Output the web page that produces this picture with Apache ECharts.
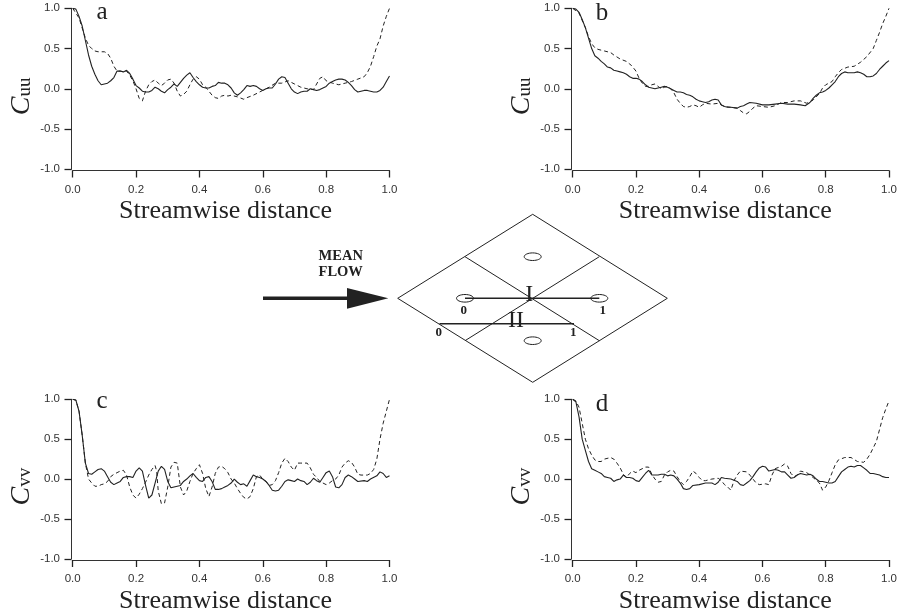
<!DOCTYPE html>
<html><head><meta charset="utf-8">
<style>html,body{margin:0;padding:0;background:#fff}#c{width:900px;height:615px}</style>
<script src="https://cdn.jsdelivr.net/npm/echarts@6/dist/echarts.min.js"></script></head>
<body><div id="c"></div>
<script>
const xTicks=[0,0.2,0.4,0.6,0.8,1];
const xTitle='Streamwise distance';
const panelLetters=['a','b','c','d'];
const yNames=['uu','uu','vv','vv'];
const aSolid=[[0,1],[.01,.99],[.02,.9],[.03,.78],[.04,.6],[.05,.42],[.06,.28],[.07,.18],[.08,.1],[.09,.05],[.095,.035],[.11,.07],[.12,.1],[.13,.14],[.14,.22],[.15,.22],[.16,.21],[.17,.23],[.175,.24],[.18,.19],[.19,.12],[.2,.04],[.21,.01],[.22,-.03],[.23,-.04],[.24,-.04],[.25,-.02],[.26,.02],[.27,0],[.28,-.03],[.29,-.05],[.3,-.01],[.31,.02],[.32,.06],[.33,.03],[.34,.08],[.35,.13],[.36,.17],[.37,.2],[.38,.14],[.39,.09],[.4,.05],[.41,.02],[.42,.01],[.43,.01],[.44,.03],[.45,.04],[.46,.08],[.47,.07],[.48,.07],[.49,.05],[.5,.01],[.51,-.05],[.52,-.08],[.53,-.05],[.54,-.01],[.55,.04],[.56,.03],[.57,.04],[.58,.03],[.59,0],[.6,-.02],[.61,0],[.62,.01],[.63,.01],[.64,.06],[.65,.12],[.66,.15],[.67,.14],[.68,.07],[.69,0],[.7,-.04],[.71,-.06],[.72,-.04],[.73,-.03],[.74,-.03],[.75,0],[.76,-.01],[.77,-.02],[.78,-.01],[.79,.01],[.8,.03],[.81,.07],[.82,.09],[.83,.11],[.84,.12],[.85,.12],[.86,.11],[.87,.08],[.88,.04],[.89,-.01],[.9,-.04],[.91,-.03],[.92,-.02],[.93,-.02],[.94,-.03],[.95,-.04],[.96,-.04],[.97,-.02],[.98,.02],[.99,.09],[1,.16]];
const aDashed=[[0,1],[.02,.88],[.04,.63],[.05,.54],[.06,.5],[.07,.47],[.08,.46],[.1,.46],[.11,.44],[.12,.38],[.13,.28],[.14,.22],[.15,.22],[.16,.21],[.17,.22],[.18,.17],[.19,.1],[.2,0],[.21,-.12],[.22,-.15],[.23,-.03],[.24,.05],[.25,.09],[.26,.11],[.27,.07],[.28,.04],[.29,.07],[.3,.11],[.31,.12],[.32,.07],[.33,-.03],[.34,-.09],[.35,-.07],[.36,-.03],[.37,.05],[.38,.12],[.39,.15],[.4,.12],[.41,.05],[.42,.02],[.43,-.03],[.44,-.08],[.45,-.11],[.46,-.12],[.47,-.09],[.48,-.08],[.49,-.09],[.5,-.08],[.52,-.1],[.54,-.13],[.55,-.11],[.57,-.08],[.59,-.04],[.6,-.02],[.62,.02],[.64,.07],[.66,.07],[.68,.1],[.7,.06],[.72,.02],[.74,0],[.76,-.01],[.77,.06],[.78,.13],[.79,.15],[.8,.1],[.82,.07],[.84,.05],[.86,.07],[.88,.09],[.9,.12],[.92,.15],[.93,.2],[.94,.28],[.95,.4],[.96,.53],[.97,.62],[.98,.78],[.99,.9],[1,1]];
const bSolid=[[0,1],[.01,.99],[.02,.95],[.03,.86],[.04,.76],[.05,.63],[.06,.5],[.07,.41],[.08,.38],[.09,.34],[.1,.31],[.11,.27],[.12,.26],[.13,.23],[.14,.22],[.15,.21],[.16,.2],[.17,.18],[.18,.15],[.19,.13],[.2,.13],[.21,.12],[.22,.09],[.23,.05],[.24,.02],[.25,.01],[.26,0],[.27,.01],[.28,.02],[.29,.03],[.3,.02],[.31,0],[.32,-.02],[.33,-.04],[.34,-.04],[.35,-.05],[.36,-.07],[.37,-.08],[.38,-.1],[.39,-.13],[.4,-.15],[.41,-.16],[.42,-.17],[.43,-.16],[.44,-.14],[.45,-.13],[.455,-.115],[.46,-.14],[.47,-.2],[.48,-.22],[.49,-.23],[.5,-.23],[.52,-.24],[.53,-.22],[.54,-.21],[.55,-.19],[.56,-.17],[.58,-.18],[.6,-.2],[.62,-.2],[.64,-.19],[.66,-.18],[.68,-.19],[.7,-.19],[.72,-.2],[.735,-.21],[.75,-.17],[.76,-.12],[.77,-.08],[.78,-.05],[.79,-.04],[.8,-.02],[.81,.01],[.82,.05],[.83,.09],[.84,.15],[.85,.19],[.86,.21],[.87,.2],[.88,.2],[.89,.2],[.9,.21],[.91,.2],[.92,.18],[.93,.15],[.94,.15],[.95,.16],[.96,.19],[.97,.24],[.98,.28],[.99,.32],[1,.35]];
const bDashed=[[0,1],[.02,.94],[.04,.76],[.05,.65],[.06,.56],[.07,.51],[.08,.49],[.1,.47],[.12,.45],[.13,.42],[.15,.37],[.17,.34],[.18,.31],[.19,.27],[.2,.22],[.21,.13],[.22,.07],[.23,.03],[.24,.03],[.25,.05],[.26,.06],[.27,.03],[.28,0],[.29,.02],[.3,.03],[.31,0],[.32,-.05],[.33,-.13],[.34,-.18],[.35,-.22],[.36,-.23],[.37,-.22],[.38,-.2],[.39,-.21],[.4,-.23],[.41,-.2],[.42,-.18],[.44,-.19],[.46,-.18],[.48,-.22],[.5,-.23],[.52,-.24],[.53,-.27],[.54,-.3],[.55,-.31],[.56,-.28],[.57,-.24],[.58,-.21],[.6,-.22],[.62,-.23],[.64,-.21],[.66,-.17],[.68,-.17],[.7,-.15],[.72,-.15],[.74,-.18],[.76,-.14],[.78,-.06],[.79,.01],[.8,.05],[.82,.09],[.83,.15],[.84,.2],[.85,.24],[.87,.27],[.89,.28],[.91,.33],[.93,.4],[.95,.5],[.96,.6],[.97,.7],[.98,.81],[.99,.9],[1,1]];
const cSolid=[[0,1],[.01,.99],[.02,.85],[.03,.55],[.04,.2],[.05,.07],[.06,.06],[.07,.09],[.08,.12],[.09,.13],[.1,.1],[.11,.03],[.12,-.04],[.13,-.07],[.14,-.05],[.15,-.03],[.16,.02],[.17,.03],[.18,.03],[.19,.02],[.2,.1],[.21,.14],[.22,.1],[.23,-.08],[.24,-.24],[.25,-.2],[.26,-.05],[.27,.1],[.28,.16],[.29,.12],[.3,-.03],[.31,-.11],[.32,-.1],[.33,-.09],[.34,-.08],[.35,-.03],[.36,0],[.37,.04],[.38,.07],[.39,.02],[.4,-.02],[.41,-.03],[.42,.02],[.43,.03],[.44,-.03],[.45,-.13],[.46,-.13],[.47,-.12],[.48,-.1],[.49,-.08],[.5,-.05],[.51,0],[.52,-.04],[.53,-.07],[.54,-.06],[.55,-.09],[.56,-.02],[.57,.05],[.58,.03],[.59,.02],[.6,0],[.61,-.03],[.62,-.08],[.63,-.14],[.64,-.15],[.65,-.14],[.66,-.09],[.67,-.03],[.68,-.01],[.69,-.02],[.7,-.03],[.71,0],[.72,-.02],[.73,-.03],[.74,-.07],[.75,-.04],[.76,.01],[.77,-.02],[.78,-.04],[.79,.02],[.8,.08],[.81,.1],[.82,.03],[.83,-.1],[.84,-.11],[.85,-.07],[.86,.02],[.87,.05],[.88,.03],[.89,0],[.9,-.03],[.92,-.02],[.93,-.03],[.94,0],[.96,.04],[.97,.09],[.98,.07],[.99,.02],[1,.04]];
const cDashed=[[0,1],[.01,.99],[.02,.85],[.03,.55],[.04,.2],[.05,0],[.06,-.05],[.07,-.09],[.08,-.09],[.09,-.07],[.1,-.06],[.11,-.03],[.12,.03],[.13,.06],[.14,.08],[.15,.1],[.16,.11],[.17,.05],[.18,-.1],[.19,-.2],[.2,-.24],[.21,-.19],[.22,-.12],[.23,-.04],[.24,.05],[.25,.12],[.26,.17],[.265,.1],[.27,-.15],[.28,-.31],[.285,-.33],[.29,-.3],[.3,-.1],[.31,.15],[.32,.21],[.33,.2],[.34,-.1],[.35,-.2],[.36,-.15],[.37,-.03],[.38,.07],[.39,.13],[.4,.18],[.41,.07],[.42,-.12],[.43,-.22],[.44,-.1],[.45,.07],[.46,.15],[.47,.16],[.48,.13],[.49,.08],[.5,0],[.51,-.05],[.52,-.12],[.53,-.18],[.54,-.23],[.55,-.25],[.56,-.22],[.57,-.12],[.58,.03],[.59,.05],[.6,0],[.61,-.03],[.62,-.08],[.63,-.07],[.64,-.02],[.65,.08],[.66,.2],[.67,.26],[.68,.22],[.69,.15],[.7,.11],[.71,.2],[.72,.2],[.74,.2],[.75,.14],[.76,.06],[.77,.02],[.78,-.03],[.79,-.05],[.8,-.07],[.81,-.05],[.82,-.02],[.83,0],[.84,.05],[.85,.15],[.86,.2],[.87,.23],[.88,.21],[.89,.15],[.9,.06],[.91,.05],[.93,.05],[.94,.07],[.95,.12],[.96,.25],[.97,.5],[.98,.7],[.99,.85],[1,1]];
const dSolid=[[0,1],[.01,.97],[.02,.78],[.03,.5],[.04,.36],[.05,.22],[.06,.13],[.07,.11],[.08,.09],[.09,.07],[.1,.03],[.11,.02],[.12,.01],[.13,-.03],[.14,-.01],[.15,0],[.16,.05],[.17,.02],[.18,.02],[.19,.01],[.2,-.02],[.21,-.03],[.22,.02],[.23,.07],[.24,.11],[.25,.05],[.26,.05],[.27,.05],[.28,.06],[.29,.06],[.3,.04],[.31,.05],[.32,.04],[.33,0],[.34,-.05],[.35,-.12],[.36,-.13],[.37,-.12],[.38,-.08],[.4,-.07],[.42,-.05],[.44,-.05],[.45,-.07],[.46,-.04],[.47,.02],[.48,.01],[.5,0],[.52,-.03],[.53,-.07],[.54,-.08],[.55,-.05],[.56,-.02],[.57,.03],[.58,.09],[.59,.14],[.6,.16],[.61,.15],[.62,.1],[.63,.11],[.64,.12],[.65,.11],[.66,.09],[.67,.09],[.68,.05],[.69,.01],[.7,.02],[.71,.05],[.72,.07],[.73,.06],[.74,.05],[.75,.06],[.76,.04],[.77,0],[.78,-.03],[.79,-.03],[.8,-.04],[.81,-.05],[.82,-.05],[.83,-.03],[.84,.03],[.85,.09],[.86,.12],[.87,.15],[.88,.16],[.89,.15],[.9,.17],[.91,.17],[.92,.14],[.93,.11],[.94,.07],[.95,.07],[.96,.06],[.97,.05],[.98,.03],[.99,.02],[1,.02]];
const dDashed=[[0,1],[.01,.98],[.02,.9],[.03,.7],[.04,.5],[.05,.38],[.06,.3],[.07,.24],[.08,.22],[.09,.22],[.1,.25],[.12,.27],[.13,.25],[.14,.2],[.15,.14],[.16,.06],[.17,.02],[.18,.07],[.19,.1],[.2,.08],[.21,.11],[.23,.15],[.24,.15],[.25,.06],[.26,0],[.27,-.04],[.28,-.03],[.29,.05],[.3,.09],[.31,.11],[.32,.1],[.33,.03],[.34,-.03],[.35,-.07],[.36,-.03],[.37,.03],[.38,.1],[.39,.07],[.4,.02],[.41,-.02],[.42,-.02],[.44,0],[.46,.01],[.47,-.02],[.48,-.07],[.49,-.1],[.5,-.14],[.51,-.02],[.52,.05],[.53,.1],[.55,.09],[.56,.05],[.57,0],[.58,-.05],[.59,-.07],[.61,-.06],[.62,-.07],[.63,.05],[.64,.13],[.66,.16],[.67,.19],[.68,.16],[.69,.07],[.7,.03],[.71,.05],[.72,.1],[.74,.08],[.75,.05],[.76,.02],[.78,-.05],[.79,-.14],[.8,-.1],[.81,-.02],[.82,.08],[.83,.18],[.84,.24],[.86,.27],[.88,.27],[.9,.22],[.92,.21],[.93,.25],[.94,.31],[.96,.47],[.97,.62],[.98,.77],[.99,.88],[1,.98]];
const solids=[aSolid,bSolid,cSolid,dSolid];
const dashed=[aDashed,bDashed,cDashed,dDashed];

const INK='#222', AXIS='#333', SERIF='"Liberation Serif","DejaVu Serif",serif', SANS='"Liberation Sans",Arial,sans-serif';
const grids=[{left:72.7,top:8.3},{left:572.7,top:8.3},{left:72.7,top:399.3},{left:572.7,top:399.3}]
  .map(g=>({...g,width:316.8,height:161}));
const axisLine={show:true,onZero:false,lineStyle:{color:AXIS,width:1}};
const axisTick={show:true,length:7,lineStyle:{color:INK,width:1.3}};
const axisLabel={color:'#333',fontFamily:SANS,fontSize:11.5};
const xAxis=grids.map((g,i)=>({gridIndex:i,type:'value',min:0,max:1,interval:0.2,offset:1.2,splitLine:{show:false},
  axisLine,axisTick,axisLabel:{...axisLabel,margin:13,formatter:v=>v.toFixed(1)},
  name:xTitle,nameLocation:'middle',nameGap:28,
  nameTextStyle:{fontFamily:SERIF,fontSize:26,color:INK,padding:[0,11,0,0]}}));
const yAxis=grids.map((g,i)=>({gridIndex:i,type:'value',min:-1,max:1,interval:0.5,offset:1.2,splitLine:{show:false},
  axisLine,axisTick,axisLabel:{...axisLabel,margin:11.5,formatter:v=>v.toFixed(1)},
  name:'{c|C}{s|'+yNames[i]+'}',nameLocation:'middle',nameRotate:90,nameGap:36,
  nameTextStyle:{padding:[0,15,0,0],rich:{c:{fontFamily:SERIF,fontStyle:'italic',fontSize:28,color:INK},
    s:{fontFamily:SERIF,fontSize:19,color:INK,padding:[7,0,0,0]}}}}));
const series=[];
grids.forEach((g,i)=>{
  series.push({type:'line',xAxisIndex:i,yAxisIndex:i,data:dashed[i],showSymbol:false,silent:true,
    lineStyle:{color:INK,width:1,type:[4,3]}});
  series.push({type:'line',xAxisIndex:i,yAxisIndex:i,data:solids[i],showSymbol:false,silent:true,
    lineStyle:{color:INK,width:1.1}});
});
const seg=(x1,y1,x2,y2,w=1)=>({type:'line',shape:{x1,y1,x2,y2},style:{stroke:INK,lineWidth:w}});
const ell=(cx,cy)=>({type:'ellipse',shape:{cx,cy,rx:8.5,ry:3.8},style:{stroke:INK,fill:'none',lineWidth:1}});
const txt=(x,y,text,font)=>({type:'text',x,y,style:{text,x:0,y:0,font,fill:INK,textAlign:'center',textVerticalAlign:'middle'}});
const bold13='bold 13px '+SERIF, bold14='bold 14.5px '+SERIF, big='24px '+SERIF, letter='25px '+SERIF;
const graphic=[
 {type:'polygon',shape:{points:[[397.7,298.3],[532.7,214.3],[667.3,298.3],[532.7,382.3]]},style:{stroke:INK,fill:'none',lineWidth:1}},
 seg(465,256.7,599.3,340.7),seg(465,340.7,599.3,256.7),
 ell(532.7,256.7),ell(465,298.3),ell(599.3,298.3),ell(532.7,340.7),
 seg(465,298.3,599.3,298.3,1.4),seg(439.5,323.7,574,323.7,1.4),
 seg(263,298.3,348,298.3,3.5),
 {type:'polygon',shape:{points:[[347,288],[388.3,298.3],[347,308.7]]},style:{fill:INK}},
 txt(340.7,256,'MEAN',bold14),txt(340.7,272.7,'FLOW',bold14),
 txt(529.3,294.3,'I',big),txt(516,320.3,'II',big),
 txt(463.7,310.3,'0',bold13),txt(602.7,310.3,'1',bold13),txt(438.7,332.3,'0',bold13),txt(573.3,332.3,'1',bold13),
 txt(102,12.5,panelLetters[0],letter),txt(602,13,panelLetters[1],letter),
 txt(102,401.5,panelLetters[2],letter),txt(602,404,panelLetters[3],letter)
];
echarts.init(document.getElementById('c'),null,{renderer:'canvas'}).setOption({animation:false,backgroundColor:'#fff',grid:grids,xAxis,yAxis,series,graphic});
</script></body></html>
